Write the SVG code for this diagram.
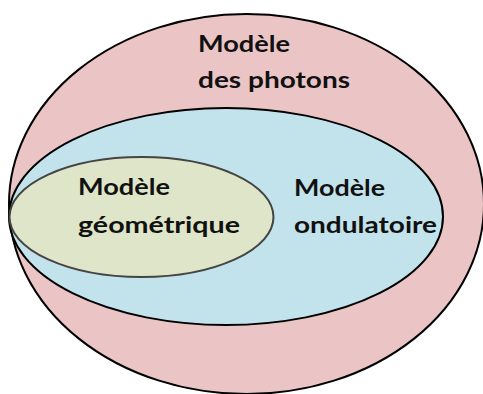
<svg xmlns="http://www.w3.org/2000/svg" width="483" height="394" viewBox="0 0 483 394">
<style>
.t{font-family:Lato,"Open Sans","Liberation Sans",sans-serif;font-weight:bold;font-size:23.5px;fill:#111}
.e{stroke-width:2}
</style>
<rect width="483" height="394" fill="#fff"/>
<g id="photons">
<ellipse class="e" cx="246.5" cy="204" rx="237.5" ry="190" fill="#ebc5c5" stroke="#000"/>
<text class="t" x="198" y="52" textLength="92" lengthAdjust="spacingAndGlyphs">Modèle</text>
<text class="t" x="198" y="88" textLength="152" lengthAdjust="spacingAndGlyphs">des photons</text>
</g>
<g id="ondulatoire">
<ellipse class="e" cx="226" cy="216.5" rx="217" ry="108.5" fill="#c2e3ec" stroke="#000"/>
<text class="t" x="294" y="196" textLength="91" lengthAdjust="spacingAndGlyphs">Modèle</text>
<text class="t" x="294" y="233" textLength="143" lengthAdjust="spacingAndGlyphs">ondulatoire</text>
</g>
<g id="geometrique">
<ellipse class="e" cx="141.5" cy="217" rx="132" ry="60" fill="#dfe5c8" stroke="#444"/>
<text class="t" x="78" y="195" textLength="92" lengthAdjust="spacingAndGlyphs">Modèle</text>
<text class="t" x="78" y="233" textLength="162" lengthAdjust="spacingAndGlyphs">géométrique</text>
</g>
<g id="connectors"/>
</svg>
